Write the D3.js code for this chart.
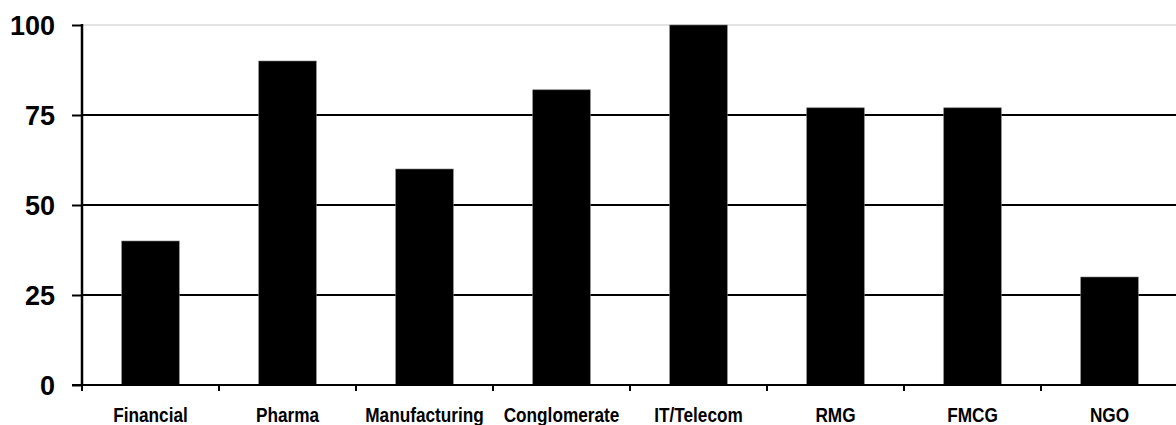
<!DOCTYPE html>
<html>
<head>
<meta charset="utf-8">
<script src="https://cdn.jsdelivr.net/npm/d3@7"></script>
<style>
  body { margin: 0; background: #fff; }
  .ylab text { font-family: "Liberation Sans", Arial, sans-serif; font-weight: bold; font-size: 27px; }
  .xlab text { font-family: "Liberation Sans", Arial, sans-serif; font-weight: bold; font-size: 21px; }
</style>
</head>
<body>
<script>
var width = 1176;
var height = 425;

var sectors = ['Financial', 'Pharma', 'Manufacturing', 'Conglomerate', 'IT/Telecom', 'RMG', 'FMCG', 'NGO'];
var scores = [40, 90, 60, 82, 100, 77, 77, 30];
var yTicks = [0, 25, 50, 75, 100];

var margin = {top: 25, left: 82, bottom: 40};
var step = 137;

var svg = d3.select('body').append('svg')
    .attr('width', width)
    .attr('height', height);

var x = d3.scaleBand()
    .domain(sectors)
    .range([margin.left, margin.left + step * sectors.length])
    .paddingInner(0.58)
    .paddingOuter(0.29);

var y = d3.scaleLinear()
    .domain([0, 100])
    .range([height - margin.bottom, margin.top]);

// gridlines (top one is light grey)
svg.append('g').selectAll('line')
    .data(yTicks.filter(function(d) { return d > 0; }))
  .enter().append('line')
    .attr('x1', margin.left)
    .attr('x2', width)
    .attr('y1', function(d) { return y(d); })
    .attr('y2', function(d) { return y(d); })
    .attr('stroke', function(d) { return d === 100 ? '#c8c8c8' : '#000'; })
    .attr('stroke-width', function(d) { return d === 100 ? 1 : 2; });

// bars
svg.append('g').selectAll('rect')
    .data(sectors)
  .enter().append('rect')
    .attr('x', function(d) { return x(d); })
    .attr('width', x.bandwidth())
    .attr('y', function(d, i) { return y(scores[i]); })
    .attr('height', function(d, i) { return y(0) - y(scores[i]); })
    .attr('fill', '#000')
    .attr('stroke', '#777')
    .attr('stroke-width', 0.6);

// y axis labels + ticks
var yAxis = svg.append('g')
    .attr('class', 'ylab')
    .attr('transform', 'translate(' + margin.left + ',0)')
    .call(d3.axisLeft(y).tickValues(yTicks).tickSize(10).tickPadding(17));
yAxis.select('.domain').remove();
yAxis.selectAll('.tick line').attr('stroke', '#000').attr('stroke-width', 2);
yAxis.selectAll('text').attr('fill', '#000').attr('dy', '0.36em');

// x axis baseline + ticks at band boundaries
var bounds = d3.range(sectors.length + 1).map(function(i) { return margin.left + step * i; });
svg.append('line')
    .attr('x1', margin.left - 10).attr('x2', width)
    .attr('y1', y(0)).attr('y2', y(0))
    .attr('stroke', '#000').attr('stroke-width', 2);
svg.append('g').selectAll('line')
    .data(bounds)
  .enter().append('line')
    .attr('x1', function(d) { return d; })
    .attr('x2', function(d) { return d; })
    .attr('y1', y(0))
    .attr('y2', y(0) + 6)
    .attr('stroke', '#000').attr('stroke-width', 2);

// vertical axis line
svg.append('line')
    .attr('x1', margin.left).attr('x2', margin.left)
    .attr('y1', y(100) - 1).attr('y2', y(0) + 1)
    .attr('stroke', '#000').attr('stroke-width', 2.5);

// category labels (condensed via horizontal scale)
svg.append('g').attr('class', 'xlab').selectAll('text')
    .data(sectors)
  .enter().append('text')
    .attr('transform', function(d) {
      return 'translate(' + (x(d) + x.bandwidth() / 2) + ',422) scale(0.82,1)';
    })
    .attr('text-anchor', 'middle')
    .text(function(d) { return d; });
</script>
</body>
</html>
